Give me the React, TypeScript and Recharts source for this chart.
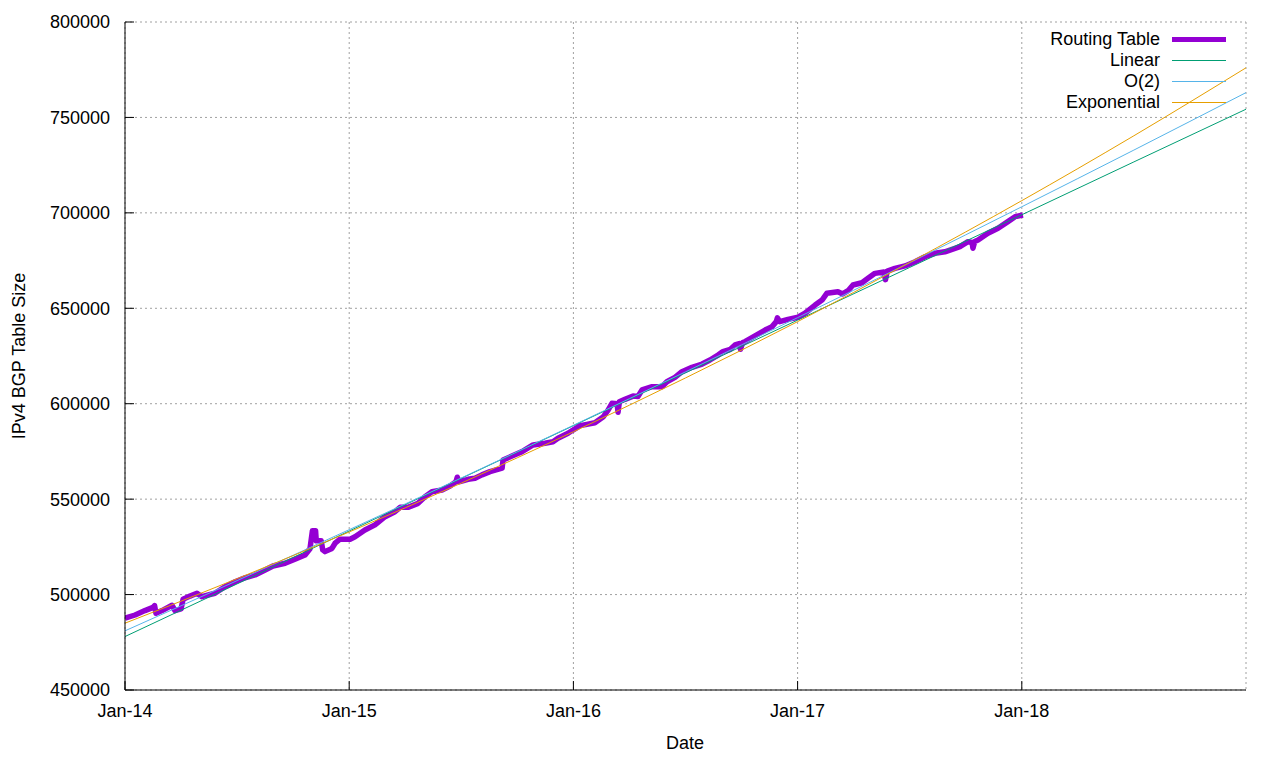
import React from 'react'
import { LineChart, Line, XAxis, YAxis, CartesianGrid } from 'recharts'

// years since Jan-14
const tickYears = [0, 1, 2, 3, 4]
const tickLabels = ['Jan-14', 'Jan-15', 'Jan-16', 'Jan-17', 'Jan-18']
const sizeTicks = [450000, 500000, 550000, 600000, 650000, 700000, 750000, 800000]

const routingYears = [
  0.0, 0.045, 0.089, 0.125, 0.132, 0.138, 0.165, 0.21, 0.223, 0.25, 0.259, 0.29, 0.321, 0.343, 0.401,
  0.446, 0.491, 0.535, 0.58, 0.625, 0.66, 0.714, 0.758, 0.803, 0.825, 0.836, 0.85, 0.853, 0.875, 0.882,
  0.892, 0.923, 0.937, 0.959, 1.004, 1.026, 1.07, 1.115, 1.16, 1.204, 1.227, 1.262, 1.307, 1.338, 1.369,
  1.414, 1.45, 1.476, 1.482, 1.49, 1.53, 1.561, 1.592, 1.628, 1.682, 1.686, 1.726, 1.771, 1.82, 1.873,
  1.909, 1.931, 1.976, 1.998, 2.03, 2.06, 2.096, 2.132, 2.154, 2.172, 2.195, 2.199, 2.205, 2.23, 2.266,
  2.288, 2.306, 2.351, 2.395, 2.417, 2.453, 2.484, 2.529, 2.574, 2.609, 2.645, 2.667, 2.7, 2.721, 2.74,
  2.745, 2.755, 2.765, 2.81, 2.855, 2.886, 2.905, 2.91, 2.92, 2.957, 3.002, 3.033, 3.078, 3.109, 3.131,
  3.18, 3.201, 3.225, 3.247, 3.287, 3.314, 3.345, 3.385, 3.392, 3.4, 3.434, 3.479, 3.524, 3.568, 3.613,
  3.657, 3.702, 3.724, 3.76, 3.778, 3.782, 3.79, 3.805, 3.849, 3.894, 3.938, 3.97, 4.005,
]
const routingSize = [
  487600, 489300, 491600, 493300, 494200, 490200, 491600, 494400, 491600, 492500, 497500, 499200, 500700, 498900, 500700,
  504100, 506700, 508800, 510300, 512900, 515000, 516400, 518500, 520700, 524000, 533500, 533500, 528200, 528200, 523400,
  522500, 524200, 526900, 529000, 529000, 530300, 533800, 536500, 540800, 543400, 545700, 545700, 547800, 551300, 553900,
  554800, 556900, 559100, 561500, 559100, 560400, 560900, 562700, 564400, 566200, 570500, 572600, 574900, 578400, 579300,
  580100, 581900, 584500, 586200, 588500, 589200, 590000, 593000, 596500, 600200, 600000, 595500, 601000, 602300, 604000,
  603800, 607200, 608900, 608900, 611500, 613800, 616800, 619100, 620800, 622900, 625500, 627300, 628500, 630800, 631500,
  628500, 632000, 632500, 635500, 638600, 640400, 643000, 645000, 643000, 644200, 645300, 647400, 651700, 654300, 657900,
  658700, 657500, 659200, 662200, 663400, 665700, 668300, 669000, 665000, 669500, 670900, 672200, 674400, 677000, 678800,
  679600, 681400, 682300, 684900, 684500, 681500, 685000, 685800, 689300, 691900, 695400, 698000, 698900,
]

const fitYears = [0, 0.5, 1, 1.5, 2, 2.5, 3, 3.5, 4, 4.5, 5]
const linearFit = [478000, 505600, 533300, 560900, 588500, 616200, 643800, 671400, 699000, 726700, 754300]
const quadFit = [481000, 507300, 534000, 561100, 588700, 616700, 645100, 673900, 703200, 732900, 763000]
const expFit = [485000, 508300, 532800, 558400, 585300, 613500, 643000, 674000, 706400, 740400, 776000]

const routingData = routingYears.map((t, i) => ({ t, size: routingSize[i] }))
const fitData = fitYears.map((t, i) => ({ t, linear: linearFit[i], quad: quadFit[i], expo: expFit[i] }))

const legendItems = [
  { name: 'Routing Table', color: '#9400d3', width: 5 },
  { name: 'Linear', color: '#009e73', width: 1 },
  { name: 'O(2)', color: '#56b4e9', width: 1 },
  { name: 'Exponential', color: '#e69f00', width: 1 },
]

const font = '"Liberation Sans", Arial, sans-serif'
const tickStyle = { fill: '#000', fontSize: 18, fontFamily: font }
const noLabel = () => <g />

const App = () => {
  return (
    <div style={{ position: 'absolute', left: 0, top: 0, width: 1280, height: 760, background: '#fff', fontFamily: font }}>
      <LineChart width={1280} height={760} margin={{ top: 22, right: 34, left: 0, bottom: 40 }}>
        <CartesianGrid stroke="#a0a0a0" strokeDasharray="2 3" />
        <XAxis
          dataKey="t"
          type="number"
          domain={[0, 5]}
          ticks={tickYears}
          allowDataOverflow
          tickFormatter={(v) => tickLabels[tickYears.indexOf(v)]}
          height={30}
          tick={tickStyle}
          tickSize={-9}
          tickMargin={23}
          stroke="#000"
          tickLine={{ stroke: '#000' }}
          label={() => (
            <text x={685} y={749} textAnchor="middle" fontSize={18} fontFamily={font} fill="#000">Date</text>
          )}
        />
        <XAxis
          xAxisId="top"
          orientation="top"
          dataKey="t"
          type="number"
          domain={[0, 5]}
          ticks={tickYears}
          height={0}
          tick={noLabel}
          tickSize={-9}
          stroke="#000"
        />
        <YAxis
          type="number"
          domain={[450000, 800000]}
          ticks={sizeTicks}
          width={125}
          tick={tickStyle}
          tickSize={-9}
          tickMargin={24}
          stroke="#000"
          label={() => (
            <text x={25} y={356} transform="rotate(-90 25 356)" textAnchor="middle" fontSize={18} fontFamily={font} fill="#000">
              IPv4 BGP Table Size
            </text>
          )}
        />
        <YAxis
          yAxisId="right"
          orientation="right"
          type="number"
          domain={[450000, 800000]}
          ticks={sizeTicks}
          width={0}
          tick={noLabel}
          tickSize={-9}
          stroke="#000"
        />
        <Line data={routingData} dataKey="size" type="linear" stroke="#9400d3" strokeWidth={5.5} strokeLinejoin="round" dot={false} activeDot={false} isAnimationActive={false} />
        <Line data={fitData} dataKey="linear" type="monotone" stroke="#009e73" strokeWidth={1} dot={false} activeDot={false} isAnimationActive={false} />
        <Line data={fitData} dataKey="quad" type="monotone" stroke="#56b4e9" strokeWidth={1} dot={false} activeDot={false} isAnimationActive={false} />
        <Line data={fitData} dataKey="expo" type="monotone" stroke="#e69f00" strokeWidth={1} dot={false} activeDot={false} isAnimationActive={false} />
      </LineChart>
      <div style={{ position: 'absolute', left: 1000, top: 29, width: 226 }}>
        {legendItems.map((item) => (
          <div key={item.name} style={{ display: 'flex', alignItems: 'center', height: 21 }}>
            <span style={{ flex: 1, textAlign: 'right', fontSize: 18, lineHeight: '21px', color: '#000' }}>{item.name}</span>
            <svg width={54} height={21} style={{ marginLeft: 12 }}>
              <line x1={0} x2={54} y1={10.5} y2={10.5} stroke={item.color} strokeWidth={item.width} />
            </svg>
          </div>
        ))}
      </div>
    </div>
  )
}

export default App
